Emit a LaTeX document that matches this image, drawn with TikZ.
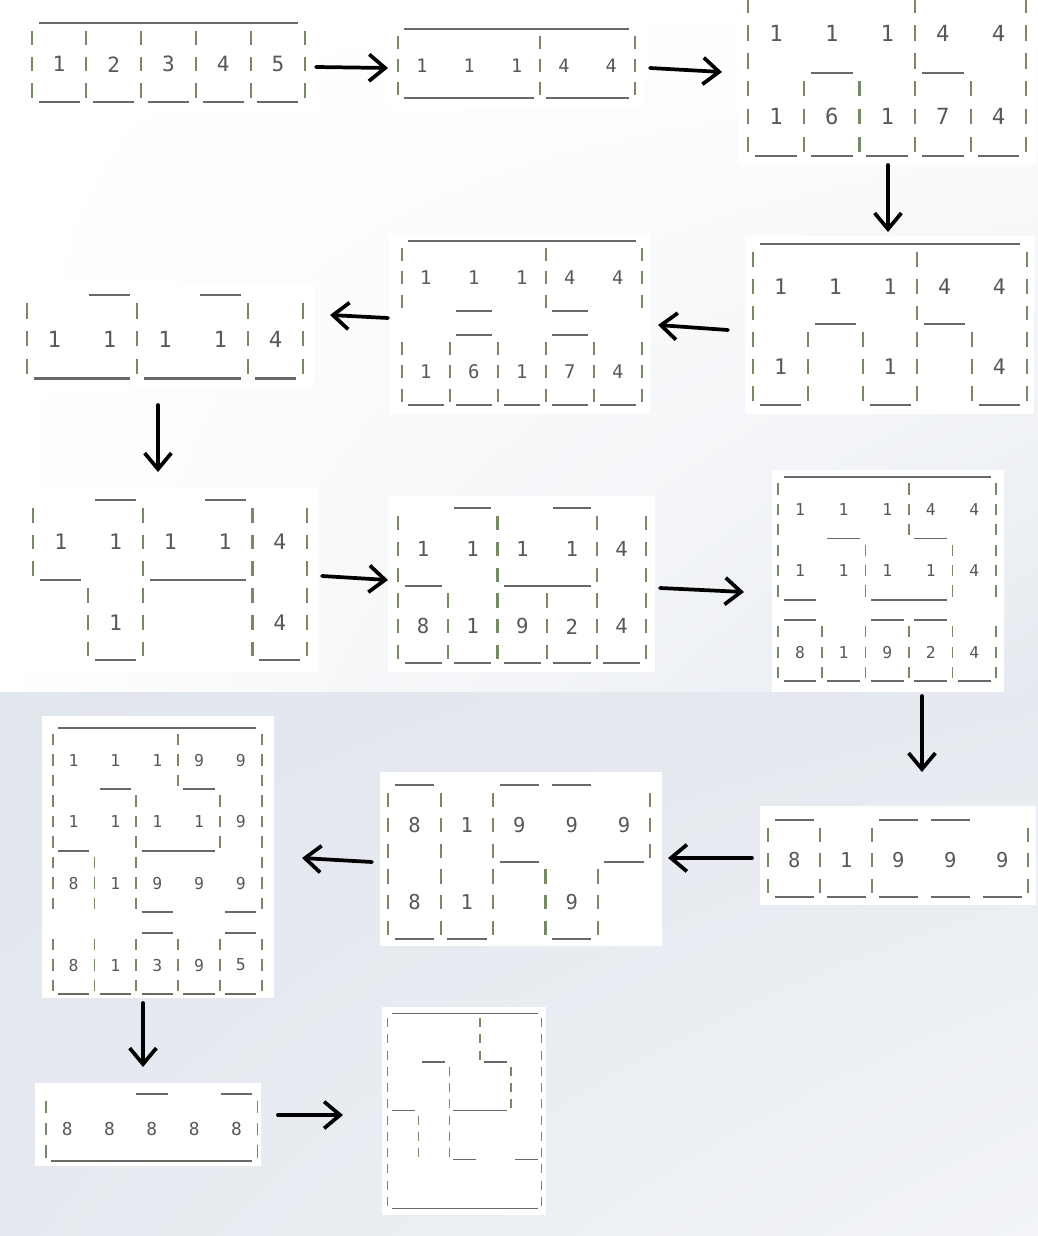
\documentclass[tikz,border=0pt]{standalone}
\usepackage{fontspec}
\setmonofont{DejaVu Sans Mono}
\usetikzlibrary{arrows.meta,shadings}
\definecolor{vwallc}{RGB}{118,138,104}
\definecolor{hwallc}{RGB}{105,105,105}
\definecolor{numc}{RGB}{88,88,88}
\definecolor{bgmid}{RGB}{230,234,240}
\definecolor{bglow}{RGB}{226,230,237}
\definecolor{bglow2}{RGB}{242,244,247}
\tikzset{
  flow/.style={line width=2.8pt,line cap=round,line join=round,-{Straight Barb[length=12pt,width=20pt]}},
  panelbg/.style={fill=white}
}
\ExplSyntaxOn
\int_new:N \l_rk_col_int
\tl_new:N \l_rk_xa_tl
\tl_new:N \l_rk_xb_tl
\NewDocumentCommand \arow { m m }
  {
    \int_zero:N \l_rk_col_int
    \str_map_inline:nn {#2}
      {
        \str_if_eq:nnF {##1} {,}
          {
            \tl_set:Nx \l_rk_xa_tl { \int_use:N \l_rk_col_int }
            \tl_set:Nx \l_rk_xb_tl { \fp_eval:n { \int_use:N \l_rk_col_int + 0.5 } }
            \str_case:nnF {##1}
              {
                {|} { \draw[vwall]~(\l_rk_xb_tl,#1-0.70)~--~(\l_rk_xb_tl,#1-0.15); }
                {_} { \draw[hwall]~(\l_rk_xa_tl,#1)~--~(\l_rk_xa_tl+1,#1); }
                {.} { }
              }
              { \node[num]~at~(\l_rk_xb_tl,#1-0.42)~{##1}; }
            \int_incr:N \l_rk_col_int
          }
      }
  }
\ExplSyntaxOff
\newcommand\mazepanel[5]{%
  \begin{scope}[shift={(#1-0.5*#3,#2)},xscale=#3,yscale=#4]
    \pgfmathsetmacro\rkfs{0.6*#4}%
    \pgfmathsetmacro\rklw{0.06*#4}%
    \tikzset{num/.style={font=\fontsize{\rkfs pt}{\rkfs pt}\selectfont\ttfamily,text=numc,inner sep=0pt},
      vwall/.style={draw=vwallc,line width=\rklw pt},
      hwall/.style={draw=hwallc,line width=\rklw pt}}%
    #5
  \end{scope}}
\begin{document}
\begin{tikzpicture}[x=0.75pt,y=-0.75pt]
\useasboundingbox (0,0) rectangle (1038,1236);
\shade[upper left=white,upper right=white,lower left=white,lower right=bgmid] (0,0) rectangle (1038,692);
\shade[upper left=bglow,upper right=bgmid,lower left=bgmid,lower right=bglow2] (0,692) rectangle (1038,1236);
% panel backgrounds
\fill[panelbg] (18,8) rectangle (318,112);
\fill[panelbg] (388,18) rectangle (645,108);
\fill[panelbg] (738,0) rectangle (1036,165);
\fill[panelbg] (745,236) rectangle (1034,414);
\fill[panelbg] (390,234) rectangle (650,414);
\fill[panelbg] (12,284) rectangle (314,388);
\fill[panelbg] (18,488) rectangle (318,672);
\fill[panelbg] (388,496) rectangle (655,672);
\fill[panelbg] (772,470) rectangle (1004,692);
\fill[panelbg] (760,806) rectangle (1036,905);
\fill[panelbg] (380,772) rectangle (662,946);
\fill[panelbg] (42,716) rectangle (274,998);
\fill[panelbg] (35,1083) rectangle (261,1166);
\fill[panelbg] (382,1007) rectangle (546,1215);
% P1
\mazepanel{31.7}{22.7}{13.68}{26.3}{
\arow{0}{.___,____,____,____,____,.}
\arow{1}{|...,|...,|...,|...,|...,|}
\arow{2}{|.1.,|.2.,|.3.,|.4.,|.5.,|}
\arow{3}{|___,|___,|___,|___,|___,|}
}
% P2
\mazepanel{398.3}{29}{11.83}{23.1}{
\arow{0}{.___,____,____,____,____,.}
\arow{1}{|...,....,....,|...,....,|}
\arow{2}{|.1.,..1.,..1.,|.4.,..4.,|}
\arow{3}{|___,____,____,|___,____,|}
}
% P3
\mazepanel{748.3}{-10.7}{13.9}{27.8}{
\arow{1}{|...,....,....,|...,....,|}
\arow{2}{|.1.,..1.,..1.,|.4.,..4.,|}
\arow{3}{|...,.___,....,|___,....,|}
\arow{4}{|...,|...,|...,|...,|...,|}
\arow{5}{|.1.,|.6.,|.1.,|.7.,|.4.,|}
\arow{6}{|___,|___,|___,|___,|___,|}
}
% P4
\mazepanel{753.3}{244}{13.67}{26.8}{
\arow{0}{.___,____,____,____,____,.}
\arow{1}{|...,....,....,|...,....,|}
\arow{2}{|.1.,..1.,..1.,|.4.,..4.,|}
\arow{3}{|...,.___,....,|___,....,|}
\arow{4}{|...,|...,|...,|...,|...,|}
\arow{5}{|.1.,|...,|.1.,|...,|.4.,|}
\arow{6}{|___,|...,|___,|...,|___,|}
}
% P5
\mazepanel{401.7}{240.7}{12.0}{23.5}{
\arow{0}{.___,____,____,____,____,.}
\arow{1}{|...,....,....,|...,....,|}
\arow{2}{|.1.,..1.,..1.,|.4.,..4.,|}
\arow{3}{|...,.___,....,|___,....,|}
\arow{4}{....,.___,....,.___,....,.}
\arow{5}{|...,|...,|...,|...,|...,|}
\arow{6}{|.1.,|.6.,|.1.,|.7.,|.4.,|}
\arow{7}{|___,|___,|___,|___,|___,|}
}
% P6
\mazepanel{26.7}{295}{13.83}{27.8}{
\arow{0}{....,.___,....,.___,....,.}
\arow{1}{|...,....,|...,....,|...,|}
\arow{2}{|.1.,..1.,|.1.,..1.,|.4.,|}
\arow{3}{|___,____,|___,____,|___,|}
}
% P7
\mazepanel{33.3}{500}{13.7}{26.7}{
\arow{0}{....,.___,....,.___,....,.}
\arow{1}{|...,....,|...,....,|...,|}
\arow{2}{|.1.,..1.,|.1.,..1.,|.4.,|}
\arow{3}{|___,....,|___,____,|...,|}
\arow{4}{....,|...,|...,....,|...,|}
\arow{5}{....,|.1.,|...,....,|.4.,|}
\arow{6}{....,|___,|...,....,|___,|}
}
% P8
\mazepanel{398.3}{508.3}{12.4}{25.8}{
\arow{0}{....,.___,....,.___,....,.}
\arow{1}{|...,....,|...,....,|...,|}
\arow{2}{|.1.,..1.,|.1.,..1.,|.4.,|}
\arow{3}{|___,....,|___,____,|...,|}
\arow{4}{|...,|...,|...,|...,|...,|}
\arow{5}{|.8.,|.1.,|.9.,|.2.,|.4.,|}
\arow{6}{|___,|___,|___,|___,|___,|}
}
% P9
\mazepanel{778.3}{477.3}{10.89}{20.4}{
\arow{0}{.___,____,____,____,____,.}
\arow{1}{|...,....,....,|...,....,|}
\arow{2}{|.1.,..1.,..1.,|.4.,..4.,|}
\arow{3}{|...,.___,....,|___,....,|}
\arow{4}{|...,....,|...,....,|...,|}
\arow{5}{|.1.,..1.,|.1.,..1.,|.4.,|}
\arow{6}{|___,....,|___,____,|...,|}
\arow{7}{.___,....,.___,.___,....,.}
\arow{8}{|...,|...,|...,|...,|...,|}
\arow{9}{|.8.,|.1.,|.9.,|.2.,|.4.,|}
\arow{10}{|___,|___,|___,|___,|___,|}
}
% P10
\mazepanel{768.3}{820}{13.0}{25.6}{
\arow{0}{.___,....,.___,.___,....,.}
\arow{1}{|...,|...,|...,....,....,|}
\arow{2}{|.8.,|.1.,|.9.,..9.,..9.,|}
\arow{3}{|___,|___,|___,.___,.___,|}
}
% P11
\mazepanel{388.3}{785}{13.1}{25.6}{
\arow{0}{.___,....,.___,.___,....,.}
\arow{1}{|...,|...,|...,....,....,|}
\arow{2}{|.8.,|.1.,|.9.,..9.,..9.,|}
\arow{3}{|...,|...,|___,....,.___,|}
\arow{4}{|...,|...,|...,|...,|...,.}
\arow{5}{|.8.,|.1.,|...,|.9.,|...,.}
\arow{6}{|___,|___,|...,|___,|...,.}
}
% P12
\mazepanel{52.7}{727.7}{10.45}{20.5}{
\arow{0}{.___,____,____,____,____,.}
\arow{1}{|...,....,....,|...,....,|}
\arow{2}{|.1.,..1.,..1.,|.9.,..9.,|}
\arow{3}{|...,.___,....,|___,....,|}
\arow{4}{|...,....,|...,....,|...,|}
\arow{5}{|.1.,..1.,|.1.,..1.,|.9.,|}
\arow{6}{|___,....,|___,____,|...,|}
\arow{7}{|...,|...,|...,....,....,|}
\arow{8}{|.8.,|.1.,|.9.,..9.,..9.,|}
\arow{9}{|...,|...,|___,....,.___,|}
\arow{10}{....,....,.___,....,.___,.}
\arow{11}{|...,|...,|...,|...,|...,|}
\arow{12}{|.8.,|.1.,|.3.,|.9.,|.5.,|}
\arow{13}{|___,|___,|___,|___,|___,|}
}
% P13
\mazepanel{46}{1094}{10.58}{22.3}{
\arow{0}{....,....,.___,....,.___,.}
\arow{1}{|...,....,....,....,....,|}
\arow{2}{|.8.,..8.,..8.,..8.,..8.,|}
\arow{3}{|___,____,____,____,____,|}
}
% P14
\mazepanel{387.7}{1013.3}{7.7}{16.25}{
\arow{0}{.___,____,____,____,____,.}
\arow{1}{|...,....,....,|...,....,|}
\arow{2}{|...,....,....,|...,....,|}
\arow{3}{|...,.___,....,|___,....,|}
\arow{4}{|...,....,|...,....,|...,|}
\arow{5}{|...,....,|...,....,|...,|}
\arow{6}{|___,....,|___,____,|...,|}
\arow{7}{|...,|...,|...,....,....,|}
\arow{8}{|...,|...,|...,....,....,|}
\arow{9}{|...,|...,|___,....,.___,|}
\arow{10}{|...,....,....,....,....,|}
\arow{11}{|...,....,....,....,....,|}
\arow{12}{|___,____,____,____,____,|}
}
% arrows
\coordinate (a1s) at (316,67);   \coordinate (a1e) at (388,68);
\coordinate (a2s) at (650,68);   \coordinate (a2e) at (722,72);
\coordinate (a3s) at (888,165);  \coordinate (a3e) at (888,232);
\coordinate (a4s) at (728,330);  \coordinate (a4e) at (658,325);
\coordinate (a5s) at (388,318);  \coordinate (a5e) at (330,315);
\coordinate (a6s) at (158,405);  \coordinate (a6e) at (158,472);
\coordinate (a7s) at (322,576);  \coordinate (a7e) at (388,580);
\coordinate (a8s) at (660,588);  \coordinate (a8e) at (744,592);
\coordinate (a9s) at (922,696);  \coordinate (a9e) at (922,772);
\coordinate (a10s) at (752,858); \coordinate (a10e) at (668,858);
\coordinate (a11s) at (372,862); \coordinate (a11e) at (302,858);
\coordinate (a12s) at (143,1003); \coordinate (a12e) at (143,1067);
\coordinate (a13s) at (278,1115); \coordinate (a13e) at (343,1115);
\foreach \i in {1,...,13} \draw[flow] (a\i s) -- (a\i e);
\end{tikzpicture}
\end{document}
